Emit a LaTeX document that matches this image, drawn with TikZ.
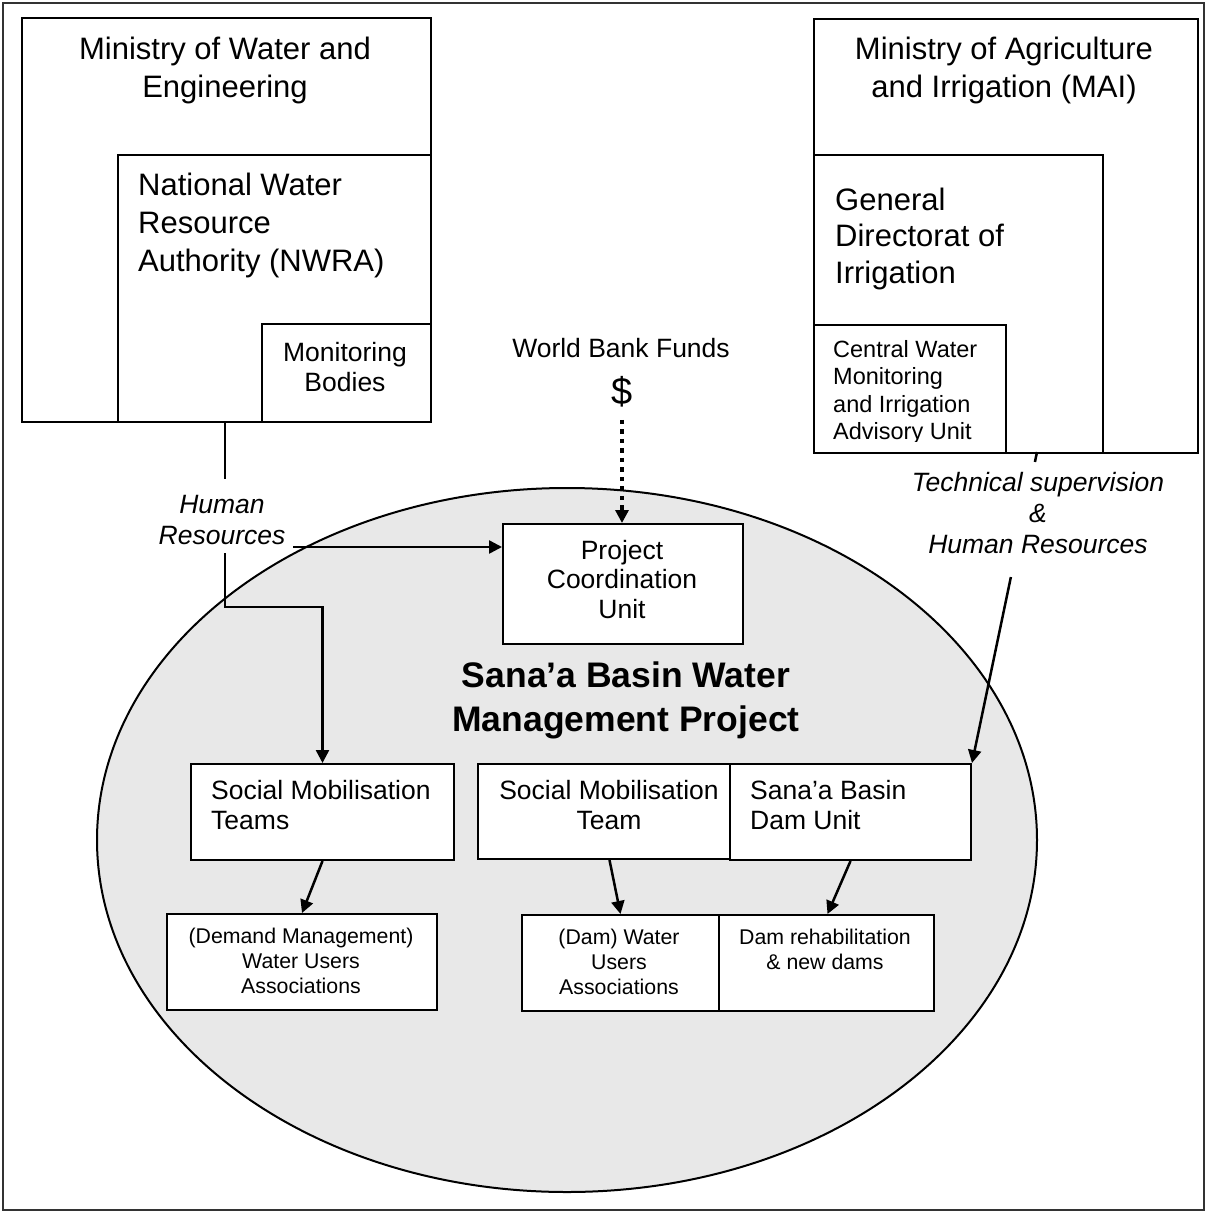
\documentclass[tikz,border=0pt]{standalone}
\usepackage{fontspec}
\setmainfont{Liberation Sans}
\usetikzlibrary{arrows.meta,calc}

% multi-line text blocks whose reference point is the first baseline
\newcommand\stackL[1]{\vtop{\halign{##\hfil\cr#1\crcr}}}
\newcommand\stackC[1]{\vtop{\halign{\hfil##\hfil\cr#1\crcr}}}

\definecolor{ellgray}{RGB}{232,232,232}

\tikzset{
  box/.style={draw, line width=2pt, fill=white, inner sep=0pt, anchor=north west},
  txt/.style={inner sep=0pt, anchor=base},
  txtL/.style={inner sep=0pt, anchor=base west},
  conn/.style={line width=2.5pt},
  arr/.style={conn, -{Triangle[length=13pt,width=13pt]}},
  dotarr/.style={line width=4.5pt, dash pattern=on 4.5pt off 5pt, -{Triangle[length=13pt,width=13pt]}},
  bigfont/.style={font=\fontsize{31}{38}\selectfont},
  bigfontB/.style={font=\fontsize{31}{36.5}\selectfont},
  medfont/.style={font=\fontsize{26.5}{30}\selectfont},
  pcufont/.style={font=\fontsize{26.5}{29.5}\selectfont},
  hrfont/.style={font=\fontsize{26.5}{31}\selectfont\itshape},
  tsfont/.style={font=\fontsize{26.5}{31}\selectfont\itshape},
  cwmfont/.style={font=\fontsize{23.5}{27.5}\selectfont},
  smallfont/.style={font=\fontsize{21.3}{25}\selectfont},
  titlefont/.style={font=\fontsize{35.5}{44}\selectfont\bfseries},
}

\begin{document}
\begin{tikzpicture}[x=1pt,y=-1pt]
\useasboundingbox (0,0) rectangle (1207,1213);

% page frame
\draw[line width=1.5pt, black!80] (3,3) rectangle (1204,1210);

% project area
\draw[fill=ellgray, line width=2pt] (567,840) ellipse [x radius=470pt, y radius=352pt];

% ministry of water and engineering
\node[box, minimum width=409pt, minimum height=404pt] (mwe) at (21,17) {};
\node[box, minimum width=313pt, minimum height=267pt] (nwra) at (117,154) {};
\node[box, minimum width=169pt, minimum height=98pt] (mb) at (261,323) {};
\node[txt, bigfont] (mweT) at (225,59) {\stackC{Ministry of Water and\cr Engineering}};
\node[txtL, bigfont] (nwraT) at (138,195.5) {\stackL{National Water\cr Resource\cr Authority (NWRA)}};
\node[txt, medfont] (mbT) at (345,361) {\stackC{Monitoring\cr Bodies}};

% ministry of agriculture and irrigation
\node[box, minimum width=384pt, minimum height=434pt] (mai) at (813,18) {};
\node[box, minimum width=289pt, minimum height=298pt] (gdi) at (813,154) {};
\node[box, minimum width=192pt, minimum height=128pt] (cwm) at (813,324) {};
\node[txt, bigfont] (maiT) at (1004,59) {\stackC{Ministry of Agriculture\cr and Irrigation (MAI)}};
\node[txtL, bigfontB] (gdiT) at (835,210) {\stackL{General\cr Directorat of\cr Irrigation}};
\begin{scope}
  \clip (813,324) rectangle (1005,441);
  \node[txtL, cwmfont] (cwmT) at (833,357) {\stackL{Central Water\cr Monitoring\cr and Irrigation\cr Advisory Unit}};
\end{scope}

% funding
\node[txt, medfont] (wbT) at (621,357) {World Bank Funds};
\node[txt, font=\fontsize{38}{44}\selectfont] (usd) at (622,404) {\$};

% units inside the project
\node[box, minimum width=240pt, minimum height=120pt] (pcu) at (502,523) {};
\node[txt, pcufont] (pcuT) at (622,559) {\stackC{Project\cr Coordination\cr Unit}};

\node[txt, titlefont] (title) at (626,687) {\stackC{Sana’a Basin Water\cr Management Project}};

\node[box, minimum width=263pt, minimum height=96pt] (smts) at (190,763) {};
\node[box, minimum width=253pt, minimum height=95pt] (smt) at (477,763) {};
\node[box, minimum width=241pt, minimum height=96pt] (sbdu) at (729,763) {};
\node[txtL, medfont] (smtsT) at (211,799) {\stackL{Social Mobilisation\cr Teams}};
\node[txt, medfont] (smtT) at (609,799) {\stackC{Social Mobilisation\cr Team}};
\node[txtL, medfont] (sbduT) at (750,799) {\stackL{Sana’a Basin\cr Dam Unit}};

\node[box, minimum width=270pt, minimum height=96pt] (dmw) at (166,913) {};
\node[box, minimum width=197pt, minimum height=96pt] (dwu) at (521,914) {};
\node[box, minimum width=215pt, minimum height=96pt] (drn) at (718,914) {};
\node[txt, smallfont] (dmwT) at (301,943) {\stackC{(Demand Management)\cr Water Users\cr Associations}};
\node[txt, smallfont] (dwuT) at (619,944) {\stackC{(Dam) Water\cr Users\cr Associations}};
\node[txt, smallfont] (drnT) at (825,944) {\stackC{Dam rehabilitation\cr \& new dams}};

% connector labels
\node[txt, hrfont] (hr) at (222,513) {\stackC{Human\cr Resources}};
\node[txt, tsfont] (ts) at (1038,491) {\stackC{Technical supervision\cr \&\cr Human Resources}};

% human resources from NWRA
\coordinate (hrA) at (225,479);
\coordinate (hrB) at (225,553);
\coordinate (hrC) at (225,607);
\coordinate (hrD) at (293,547);
\draw[conn] (hrA |- mwe.south) -- (hrA);
\draw[arr] (hrB) -- (hrC) -| (smts.north);
\draw[arr] (hrD) -- (hrD -| pcu.west);

% technical supervision from the irrigation directorate
\coordinate (tsA) at (1037,452);
\draw[conn] (tsA) -- ($(tsA)!0.032!(sbdu.north east)$);
\draw[arr] ($(tsA)!0.402!(sbdu.north east)$) -- (sbdu.north east);

% funds
\draw[dotarr, shorten <=13pt] (usd.south) -- (usd.south |- pcu.north);

% reporting lines
\draw[arr] (smts.south) -- (dmw.north);
\draw[arr] ([xshift=5pt]smt.south) -- (dwu.north);
\draw[arr] (sbdu.south) -- ([xshift=1pt]drn.north);
\end{tikzpicture}
\end{document}
